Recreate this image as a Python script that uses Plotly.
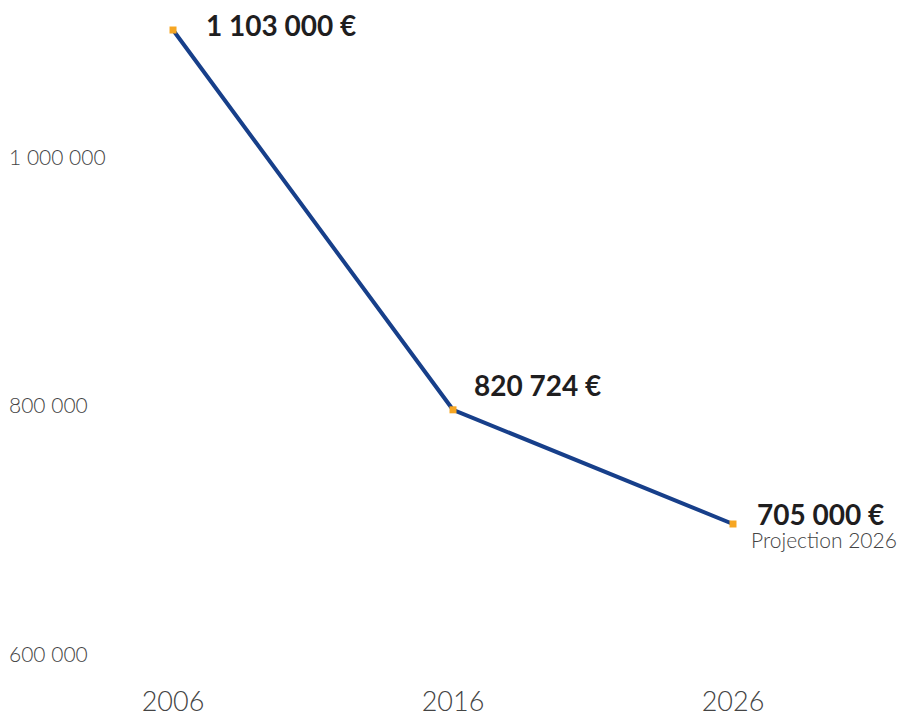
import plotly.graph_objects as go

years = [2006, 2016, 2026]
values = [1103000, 797000, 705000]
value_labels = ["1 103 000 €", "820 724 €", "705 000 €"]
sub_labels = ["", "", "Projection 2026"]
y_ticks = [600000, 800000, 1000000]
y_tick_text = ["600 000", "800 000", "1 000 000"]
x_tick_text = ["2006", "2016", "2026"]

LINE = "#173F8A"
MARK = "#F6A623"
TXT = "#1F1E1F"
GREY = "#444444"
FONT = "Lato"

fig = go.Figure()
fig.add_trace(go.Scatter(
    x=years, y=values, mode="lines+markers",
    line=dict(color=LINE, width=4),
    marker=dict(symbol="square", size=7, color=MARK),
    hoverinfo="skip", showlegend=False,
))

shifts = [(31, 5), (19, 25), (22, 10)]
for yr, v, lab, sub, (dx, dy) in zip(years, values, value_labels, sub_labels, shifts):
    fig.add_annotation(
        x=yr, y=v, text="<b>" + lab + "</b>", showarrow=False,
        xanchor="left", yanchor="middle", xshift=dx, yshift=dy,
        font=dict(family=FONT, size=28, color=TXT),
    )
    if sub:
        fig.add_annotation(
            x=yr, y=v, text=sub, showarrow=False,
            xanchor="left", yanchor="middle", xshift=dx - 6, yshift=dy - 25,
            font=dict(family=FONT, size=21, color=GREY, weight=300),
        )

fig.update_layout(
    width=902, height=713,
    margin=dict(l=0, r=0, t=0, b=30),
    paper_bgcolor="white", plot_bgcolor="white",
    xaxis=dict(
        range=[1999.821, 2032.036], tickvals=years, ticktext=x_tick_text,
        showgrid=False, zeroline=False, showline=False, ticks="",
        automargin=False,
        tickfont=dict(family=FONT, size=27, color=GREY, weight=300),
    ),
    yaxis=dict(
        range=[576896, 1127170], tickvals=y_ticks, ticktext=y_tick_text,
        showgrid=False, zeroline=False, showline=False, ticks="",
        automargin=False, ticklabelposition="inside", ticklabelstandoff=6,
        tickfont=dict(family=FONT, size=21, color=GREY, weight=300),
    ),
)

fig.write_html(
    "out.html",
    config={"displayModeBar": False, "staticPlot": True},
    post_script="document.body.style.margin='0';document.body.style.overflow='hidden';",
)
